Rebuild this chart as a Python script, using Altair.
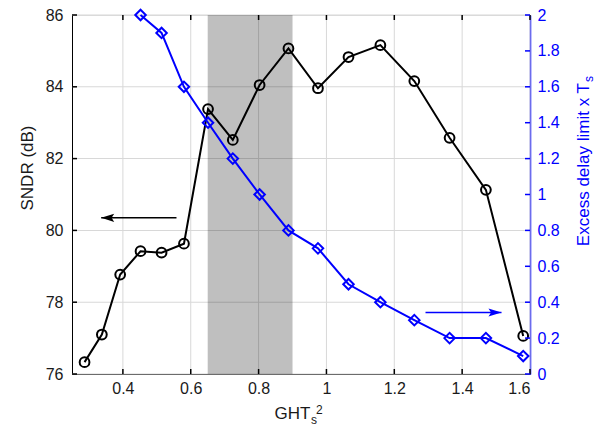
import altair as alt
import pandas as pd

# ---- data ----
ght = [0.287, 0.338, 0.392, 0.452, 0.514, 0.58, 0.651, 0.724, 0.803, 0.888,
       0.975, 1.065, 1.159, 1.259, 1.363, 1.47, 1.58]
sndr = [76.33, 77.1, 78.77, 79.42, 79.38, 79.63, 83.38, 82.52, 84.05, 85.07,
        83.96, 84.83, 85.16, 84.16, 82.58, 81.13, 77.06]
delay_x = ght[3:]
delay = [2.0, 1.9, 1.6, 1.4, 1.2, 1.0, 0.8, 0.7, 0.5, 0.4, 0.3, 0.2, 0.2, 0.1]
band = [0.65, 0.9]
x_ticks = [0.4, 0.6, 0.8, 1.0, 1.2, 1.4, 1.6]
left_ticks = [76.0, 78.0, 80.0, 82.0, 84.0, 86.0]
right_ticks = [0, 0.2, 0.4, 0.6, 0.8, 1.0, 1.2, 1.4, 1.6, 1.8, 2.0]
x_dom = [0.25, 1.6]
yl_dom = [76, 86]
yr_dom = [0, 2]
black_arrow = {"x1": 0.558, "x2": 0.336, "y": 80.35}
blue_arrow = {"x1": 1.292, "x2": 1.516, "y": 0.343}

W, H = 458, 359
TICK = 5  # inward tick length in px
FONT = "Liberation Sans"
BLUE = "#0000ff"
DARK = "#1a1a1a"
GRID = "#d8d8d8"

dx = TICK * (x_dom[1] - x_dom[0]) / W
dyl = TICK * (yl_dom[1] - yl_dom[0]) / H
px_l = (yl_dom[1] - yl_dom[0]) / H   # one pixel in left-axis units
px_r = (yr_dom[1] - yr_dom[0]) / H   # one pixel in right-axis units

df_black = pd.DataFrame({"x": ght, "y": sndr})
df_blue = pd.DataFrame({"x": delay_x, "y": delay})
df_band = pd.DataFrame({"x": [band[0]], "x2": [band[1]]})
df_xgrid = pd.DataFrame({"x": x_ticks, "y1": yl_dom[0], "y2": yl_dom[1]})
df_ygrid = pd.DataFrame({
    "ya": [v - px_l / 2 for v in left_ticks],
    "yb": [v + px_l / 2 for v in left_ticks],
    "x1": x_dom[0], "x2": x_dom[1]})
df_ltick = pd.DataFrame({
    "ya": [v - 0.75 * px_l for v in left_ticks],
    "yb": [v + 0.75 * px_l for v in left_ticks],
    "x1": x_dom[0], "x2": x_dom[0] + dx})
df_btick = pd.DataFrame({"x": x_ticks, "y1": yl_dom[0], "y2": yl_dom[0] + dyl})
df_ttick = pd.DataFrame({"x": x_ticks, "y1": yl_dom[1] - dyl, "y2": yl_dom[1]})
df_rtick = pd.DataFrame({
    "ya": [v - 0.75 * px_r for v in right_ticks],
    "yb": [v + 0.75 * px_r for v in right_ticks],
    "x1": x_dom[1] - dx, "x2": x_dom[1]})
df_ba = pd.DataFrame([black_arrow])
df_bla = pd.DataFrame([blue_arrow])

xs = alt.Scale(domain=x_dom, nice=False, zero=False)
ys_l = alt.Scale(domain=yl_dom, nice=False, zero=False)
ys_r = alt.Scale(domain=yr_dom, nice=False, zero=False)

ax_x = alt.Axis(values=x_ticks, format=".1~f", title=None, ticks=False,
                grid=False, orient="bottom",
                domainColor="black", domainWidth=1, labelOverlap=False,
                labelFontSize=16, labelFont=FONT, labelColor=DARK, labelPadding=6)
ax_yl = alt.Axis(values=left_ticks, title=None, ticks=False, orient="left",
                 grid=False, labelOverlap=False,
                 domainColor="black", domainWidth=1, labelBound=False,
                 labelFontSize=16, labelFont=FONT, labelColor=DARK, labelPadding=9)
ax_yr = alt.Axis(values=right_ticks, format=".1~f", title=None, ticks=False,
                 orient="right", grid=False, labelOverlap=False, labelBound=False,
                 domainColor=BLUE, domainWidth=1.5,
                 labelFontSize=16, labelFont=FONT, labelColor=BLUE, labelPadding=7)

X = lambda f: alt.X(f, type="quantitative", scale=xs, axis=ax_x)
YL = lambda f: alt.Y(f, type="quantitative", scale=ys_l, axis=ax_yl)
YR = lambda f: alt.Y(f, type="quantitative", scale=ys_r, axis=ax_yr)

# grid lines (vertical as rules, horizontal as 1px rects)
xgrid = alt.Chart(df_xgrid).mark_rule(color=GRID, strokeWidth=1).encode(
    x=X("x"), y=YL("y1"), y2="y2:Q")
ygrid = alt.Chart(df_ygrid).mark_rect(color=GRID, opacity=1).encode(
    x=X("x1"), x2="x2:Q", y=YL("ya"), y2="yb:Q")

band_layer = alt.Chart(df_band).mark_rect(color="black", opacity=0.25).encode(
    x=X("x"), x2="x2:Q")

black_line = alt.Chart(df_black).mark_line(color="black", strokeWidth=2).encode(
    x=X("x"), y=YL("y"))
black_pts = alt.Chart(df_black).mark_point(
    shape="circle", filled=False, color="black", size=95, strokeWidth=2, opacity=1
).encode(x=X("x"), y=YL("y"))

ltick = alt.Chart(df_ltick).mark_rect(color="black", opacity=1).encode(
    x=X("x1"), x2="x2:Q", y=YL("ya"), y2="yb:Q")
btick = alt.Chart(df_btick).mark_rule(color="black", strokeWidth=1.5).encode(
    x=X("x"), y=YL("y1"), y2="y2:Q")
ttick = alt.Chart(df_ttick).mark_rule(color="black", strokeWidth=1.5).encode(
    x=X("x"), y=YL("y1"), y2="y2:Q")

b_arrow_line = alt.Chart(df_ba).mark_rule(color="black", strokeWidth=1.5).encode(
    x=X("x1"), x2="x2:Q", y=YL("y"))
b_arrow_head = alt.Chart(df_ba).mark_point(
    shape="M 0 0 L 2 -0.62 L 1.6 0 L 2 0.62 Z", filled=True, color="black",
    size=170, opacity=1, strokeWidth=0.5
).encode(x=X("x2"), y=YL("y"))

left_group = alt.layer(xgrid, ygrid, band_layer, ltick, btick, ttick,
                       black_line, black_pts, b_arrow_line, b_arrow_head)

blue_line = alt.Chart(df_blue).mark_line(color=BLUE, strokeWidth=2).encode(
    x=X("x"), y=YR("y"))
blue_pts = alt.Chart(df_blue).mark_point(
    shape="diamond", filled=False, color=BLUE, size=110, strokeWidth=2, opacity=1
).encode(x=X("x"), y=YR("y"))
rtick = alt.Chart(df_rtick).mark_rect(color=BLUE, opacity=1).encode(
    x=X("x1"), x2="x2:Q", y=YR("ya"), y2="yb:Q")
r_arrow_line = alt.Chart(df_bla).mark_rule(color=BLUE, strokeWidth=1.5).encode(
    x=X("x1"), x2="x2:Q", y=YR("y"))
r_arrow_head = alt.Chart(df_bla).mark_point(
    shape="M 0 0 L -2 -0.62 L -1.6 0 L -2 0.62 Z", filled=True, color=BLUE,
    size=170, opacity=1, strokeWidth=0.5
).encode(x=X("x2"), y=YR("y"))

right_group = alt.layer(rtick, blue_line, blue_pts, r_arrow_line, r_arrow_head)

# ---- titles as text marks ----
def txt(text, x, y, size, color=DARK, angle=0, align="center", baseline="alphabetic"):
    return alt.Chart(pd.DataFrame({"t": [text]})).mark_text(
        font=FONT, fontSize=size, color=color, angle=angle, align=align,
        baseline=baseline
    ).encode(text="t:N", x=alt.value(x), y=alt.value(y))

titles = alt.layer(
    txt("SNDR (dB)", -44, 153, 17, angle=270, baseline="middle"),
    txt("GHT", 238.5, 404, 17, align="right"),
    txt("s", 239, 409, 12, align="left"),
    txt("2", 244, 399, 12, align="left"),
    txt("Excess delay limit x T", 517, 68, 17, color=BLUE, angle=270, align="right"),
    txt("s", 521, 67, 12, color=BLUE, angle=270, align="left"),
)

chart = alt.layer(left_group, right_group, titles).resolve_scale(
    y="independent"
).properties(
    width=W, height=H, autosize="none",
    padding={"left": 64, "top": 7, "right": 73, "bottom": 52},
).configure_view(stroke="black", strokeWidth=1).configure(background="white")

chart.save("out.html", embed_options={"renderer": "svg", "actions": False})
